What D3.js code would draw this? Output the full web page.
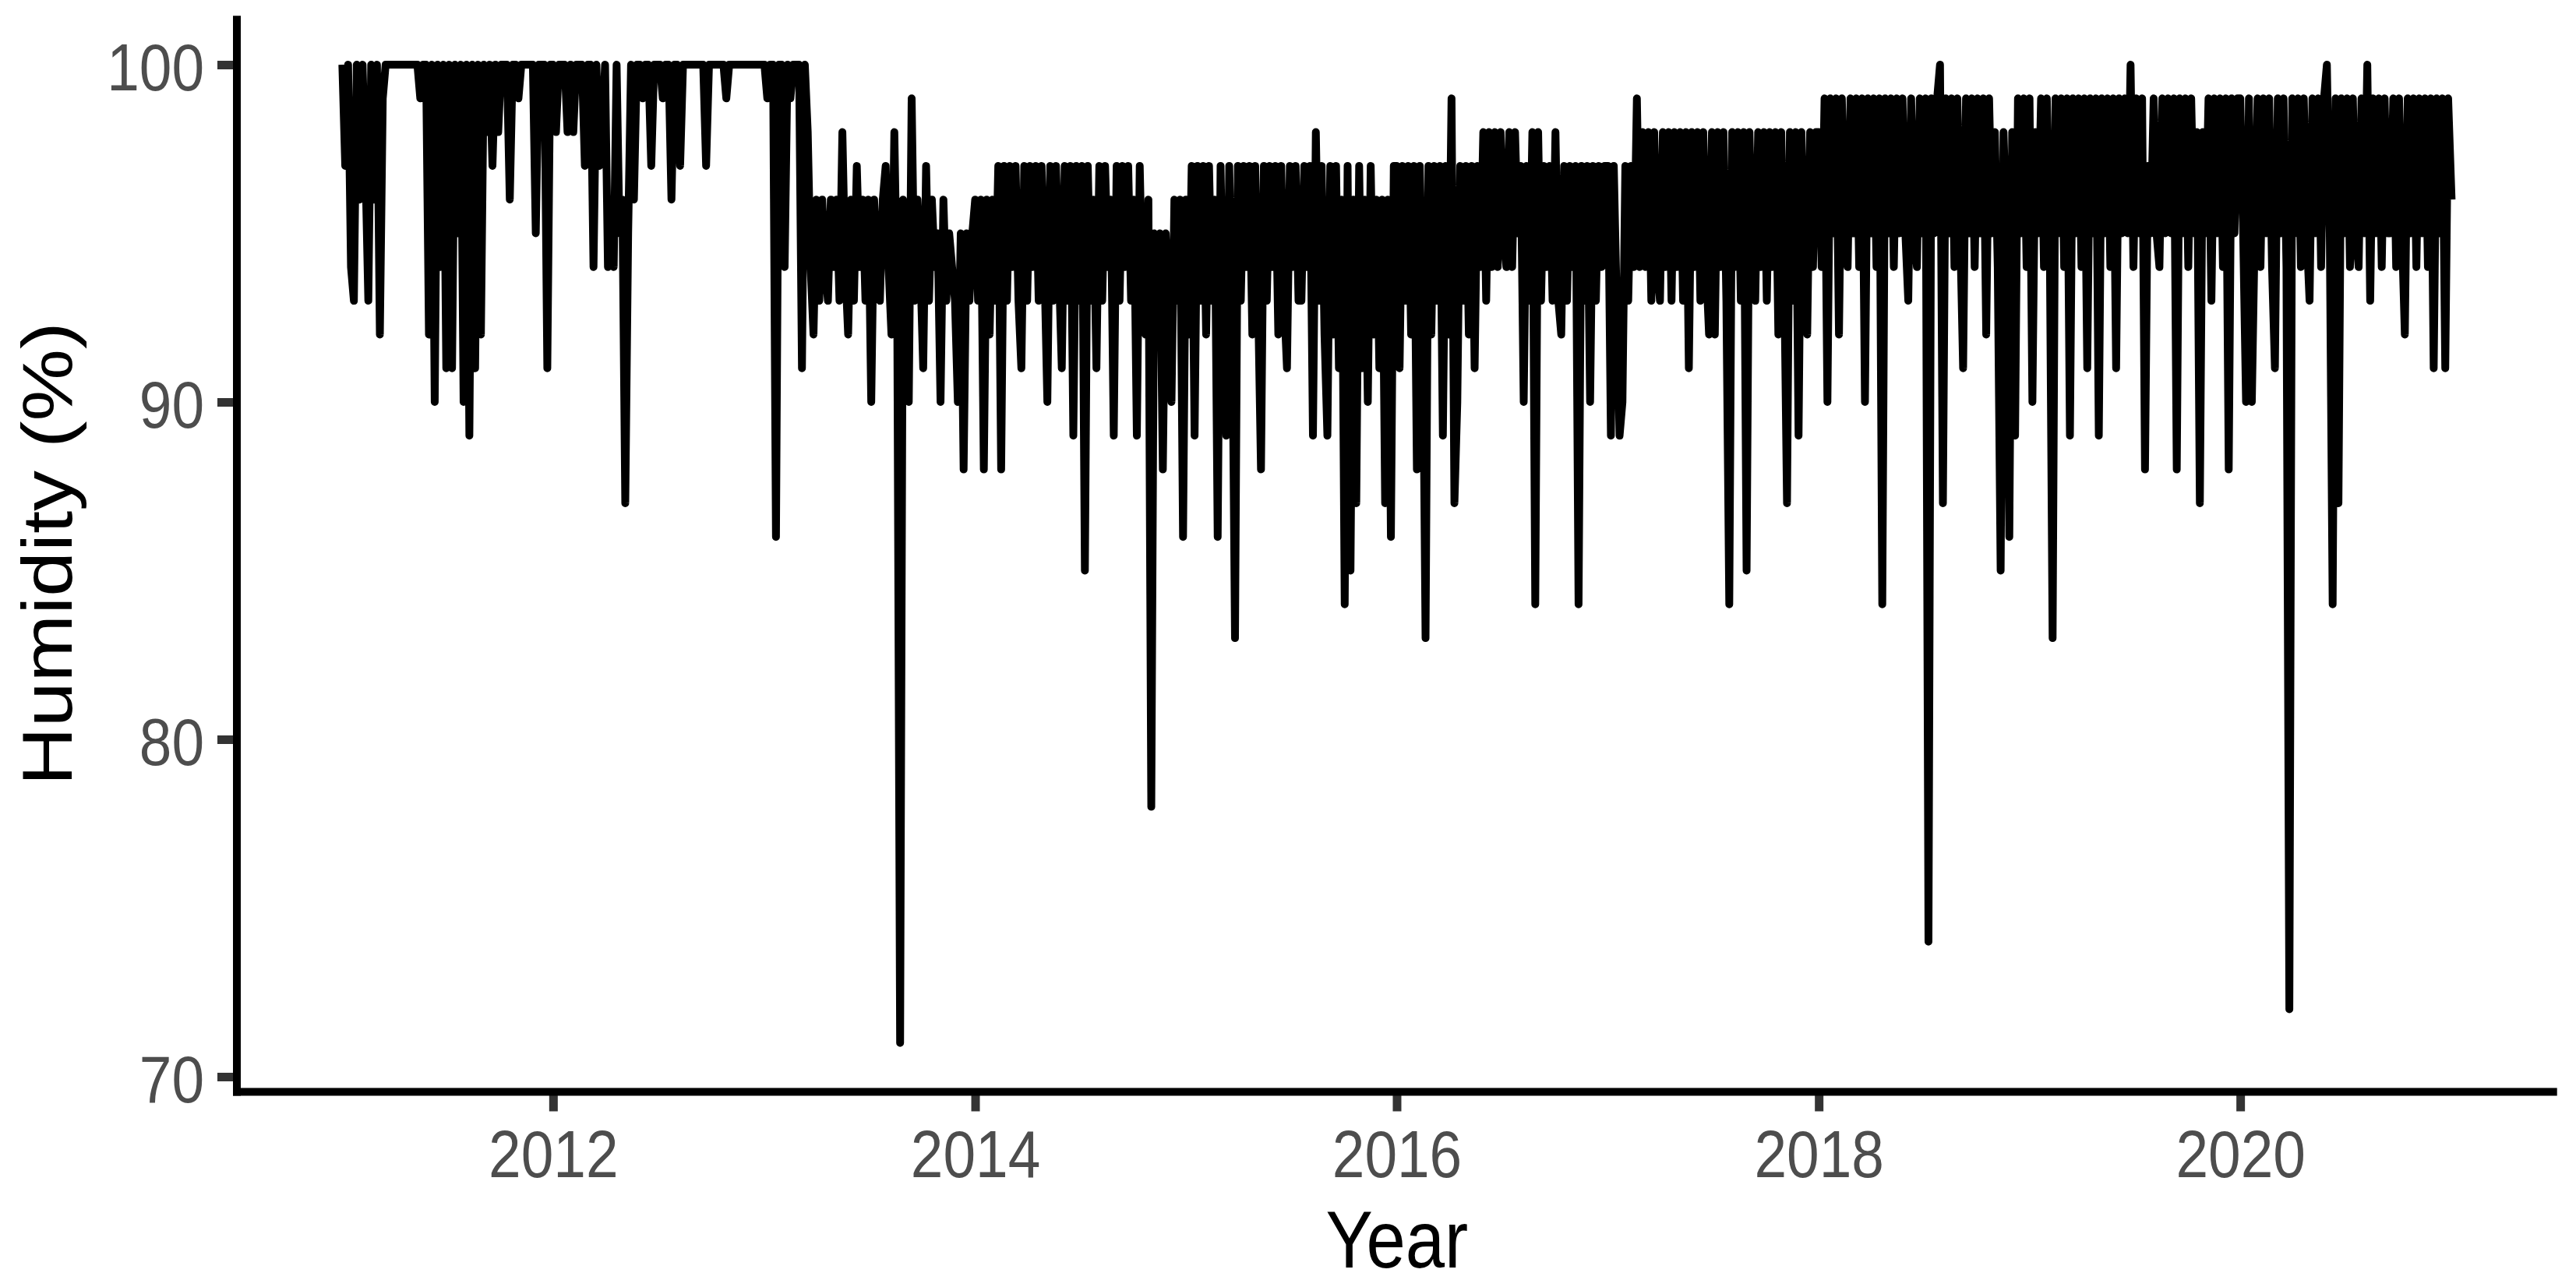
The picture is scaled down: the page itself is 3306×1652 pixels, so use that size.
<!DOCTYPE html>
<html>
<head>
<meta charset="utf-8">
<script src="https://cdn.jsdelivr.net/npm/d3@7"></script>
<style>
  html, body { margin: 0; padding: 0; background: #ffffff; }
  svg { display: block; }
</style>
</head>
<body>
<svg id="chart" width="3306" height="1652"></svg>
<script>
// ---- Data: humidity (%), one value every 5 days per year ----
const hum2011 = [100,97,100,94,93,100,96,100,97,93, 100,96,100,92,99,100,100,100,100,100, 100,100,100,100,100,100,100,99,100,100, 92,100,90,100,94,100,91,100,91,100, 95,100,90,100,89,100,91,100,92,100, 98,100,97,100,98,100,100,100,96,100, 100,99,100,100,100,100,100,95,100,100, 100,91,100];
const hum2012 = [100,98,100,100,100,98,100,98,100,100, 100,97,100,100,94,100,97,98,100,94, 96,94,100,95,96,87,95,100,96,100, 100,99,100,100,97,100,100,100,99,100, 100,96,100,100,97,100,100,100,100,100, 100,100,100,97,100,100,100,100,100,100, 99,100,100,100,100,100,100,100,100,100, 100,100,100];
const hum2013 = [100,99,100,100,86,100,100,94,100,99, 100,100,100,91,100,98,94,92,96,93, 96,94,93,96,94,96,93,98,94,92, 96,93,97,94,96,93,96,90,96,94, 93,96,97,94,92,98,93,71,96,94, 90,99,93,96,94,91,97,93,96,94, 95,90,96,93,95,94,93,90,95,88, 95,93,95];
const hum2014 = [96,93,96,88,96,92,96,93,97,88, 97,93,97,94,97,93,91,97,93,97, 94,97,93,97,94,90,97,93,97,94, 91,97,93,97,89,97,93,97,85,97, 93,96,91,97,93,97,94,96,89,97, 93,97,94,97,93,96,89,97,93,92, 96,78,95,93,95,88,95,93,90,96, 93,96,86];
const hum2015 = [96,92,97,89,97,93,97,92,97,93, 96,86,97,92,89,97,93,83,97,93, 97,94,97,92,97,93,88,97,93,97, 94,97,92,97,93,91,97,94,97,93, 93,97,94,97,89,98,93,97,92,89, 97,92,97,91,96,84,97,85,96,87, 97,91,96,90,97,92,96,91,96,87, 96,86,97];
const hum2016 = [97,91,97,93,97,92,97,88,97,93, 83,97,92,97,93,97,89,97,92,99, 87,90,97,93,97,92,97,91,97,94, 98,93,98,94,98,94,98,95,94,98, 94,98,95,97,90,97,93,98,84,98, 93,97,94,97,93,98,93,92,97,93, 97,94,97,84,97,93,97,90,97,93, 97,94,97];
const hum2017 = [97,89,97,93,89,90,97,93,97,94, 99,94,98,94,98,93,98,94,93,98, 94,98,93,98,94,98,93,98,91,98, 94,98,93,98,94,92,98,92,98,94, 98,93,84,98,94,98,93,98,85,98, 94,93,98,94,98,93,98,94,98,92, 98,94,87,98,93,98,89,98,94,92, 98,94,98];
const hum2018 = [98,94,99,90,99,95,99,92,99,95, 94,99,95,99,94,99,90,99,95,99, 94,99,84,99,95,99,94,99,95,99, 95,93,99,95,94,99,95,99,74,99, 95,99,100,87,99,95,99,94,99,95, 91,99,95,99,94,99,95,99,92,99, 95,98,94,85,98,95,86,98,89,99, 95,99,94];
const hum2019 = [99,90,98,95,99,94,99,95,83,99, 95,99,94,99,89,99,95,99,94,99, 91,99,95,99,89,99,95,99,94,99, 91,99,95,99,95,100,94,99,95,99, 88,97,95,99,95,94,99,95,99,95, 99,88,99,95,99,94,99,95,98,87, 98,95,99,93,99,95,99,94,99,88, 99,95,99];
const hum2020 = [99,95,90,99,90,95,99,94,99,95, 99,94,91,99,95,99,94,72,99,95, 99,94,99,95,93,99,95,99,94,99, 100,95,84,99,87,99,95,99,94,99, 95,94,99,95,100,93,99,95,99,94, 99,95,95,99,94,99,95,92,99,95, 99,94,99,95,99,94,99,91,99,95, 99,91,99];
const hum2021 = [96];

const yearsOfData = [2011, 2012, 2013, 2014, 2015, 2016, 2017, 2018, 2019, 2020, 2021];
const valuesByYear = [hum2011, hum2012, hum2013, hum2014, hum2015, hum2016, hum2017, hum2018, hum2019, hum2020, hum2021];
const stepDays = 5;

const yTickValues = [70, 80, 90, 100];
const xTickYears = [2012, 2014, 2016, 2018, 2020];
const xTitleText = "Year";
const yTitleText = "Humidity (%)";

// ---- Build the series ----
const series = [];
yearsOfData.forEach((yr, k) => {
  valuesByYear[k].forEach((v, i) => {
    series.push({ date: new Date(Date.UTC(yr, 0, 1 + stepDays * i)), value: v });
  });
});

// ---- Layout ----
const svg = d3.select("#chart");
const FONT = "'Liberation Sans', Arial, Helvetica, sans-serif";
const SQUEEZE = 0.87;           // horizontal squeeze of the reference glyphs
const TICK_FONT = 86, TITLE_FONT = 104;
const panelLeft = 304, panelRight = 3281.7, panelTop = 20.2, panelBottom = 1401.5;

// ggplot-style 5% expansion of the data range
const dExt = d3.extent(series, d => d.date.getTime());
const dPad = (dExt[1] - dExt[0]) * 0.05;
const vExt = d3.extent(series, d => d.value);
const vPad = (vExt[1] - vExt[0]) * 0.05;

const x = d3.scaleUtc()
  .domain([new Date(dExt[0] - dPad), new Date(dExt[1] + dPad)])
  .range([panelLeft, panelRight]);
const y = d3.scaleLinear()
  .domain([vExt[0] - vPad, vExt[1] + vPad])
  .range([panelBottom, panelTop]);

// ---- Data line ----
const line = d3.line().x(d => x(d.date)).y(d => y(d.value));
svg.append("path")
  .datum(series)
  .attr("d", line)
  .attr("fill", "none")
  .attr("stroke", "#000000")
  .attr("stroke-width", 10)
  .attr("stroke-linejoin", "round")
  .attr("stroke-linecap", "butt");

// ---- Axes ----
const xAxis = d3.axisBottom(x)
  .tickValues(xTickYears.map(yr => new Date(Date.UTC(yr, 0, 1))))
  .tickFormat(d3.utcFormat("%Y"))
  .tickSize(25).tickSizeOuter(0).tickPadding(23.5);
const gx = svg.append("g").attr("transform", `translate(0,${y.range()[0]})`).call(xAxis);
gx.select(".domain").remove();
gx.selectAll(".tick line").attr("stroke", "#333333").attr("stroke-width", 11);
gx.selectAll(".tick text")
  .attr("fill", "#4D4D4D")
  .attr("transform", `scale(${SQUEEZE},1)`)
  .style("font-family", FONT).style("font-size", TICK_FONT + "px");

const yAxis = d3.axisLeft(y).tickValues(yTickValues).tickFormat(d3.format("d"))
  .tickSize(25).tickSizeOuter(0);
const gy = svg.append("g").attr("transform", `translate(${x.range()[0]},0)`).call(yAxis);
gy.select(".domain").remove();
gy.selectAll(".tick line").attr("stroke", "#333333").attr("stroke-width", 11);
gy.selectAll(".tick text")
  .attr("fill", "#4D4D4D")
  .attr("x", -42 / SQUEEZE)
  .attr("dy", "0.38em")
  .attr("transform", `scale(${SQUEEZE},1)`)
  .style("font-family", FONT).style("font-size", TICK_FONT + "px");

// axis lines (theme_classic)
const [xr0, xr1] = x.range();
const [yr0, yr1] = y.range();
svg.append("line")
  .attr("x1", xr0).attr("x2", xr0).attr("y1", yr0 + 5).attr("y2", yr1)
  .attr("stroke", "#000000").attr("stroke-width", 10);
svg.append("line")
  .attr("x1", xr0 - 5).attr("x2", xr1).attr("y1", yr0).attr("y2", yr0)
  .attr("stroke", "#000000").attr("stroke-width", 10);

// ---- Titles ----
svg.append("text")
  .attr("transform", `translate(${(xr0 + xr1) / 2},1627) scale(${SQUEEZE},1)`)
  .attr("text-anchor", "middle")
  .attr("fill", "#000000")
  .style("font-family", FONT).style("font-size", TITLE_FONT + "px")
  .text(xTitleText);

svg.append("text")
  .attr("transform", `translate(91.5,${(yr0 + yr1) / 2}) scale(${SQUEEZE},1) rotate(-90)`)
  .attr("text-anchor", "middle")
  .attr("fill", "#000000")
  .style("font-family", FONT).style("font-size", TITLE_FONT + "px")
  .text(yTitleText);
</script>
</body>
</html>
